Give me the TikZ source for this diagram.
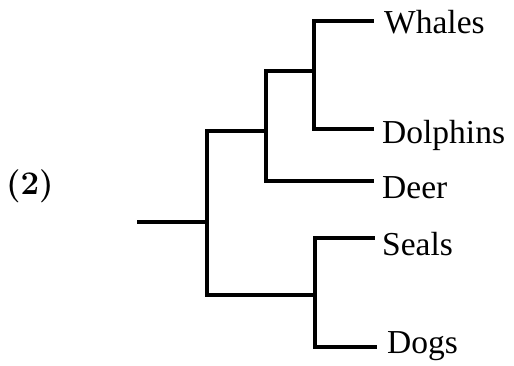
\documentclass[tikz,border=0pt]{standalone}
\usepackage{fontspec}
\newfontfamily\leaffont{Liberation Serif}
\usetikzlibrary{positioning}

\tikzset{
  branch/.style={line width=3.2pt, black},
  leaf/.style={anchor=base west, inner sep=0pt, font=\leaffont\fontsize{33.5}{40}\selectfont},
}

\begin{document}
\begin{tikzpicture}[x=1pt, y=-1pt]
    \useasboundingbox (0,0) rectangle (514,365);
    % panel number
    \node[anchor=base west, inner sep=0pt, font=\fontsize{33}{38}\selectfont\bfseries] (panel) at (6,194) {(2)};
    % inner nodes of the tree
    \coordinate (stub) at (137,222);
    \coordinate (root) at (207,222);
    \coordinate (upper) at (266,131);
    \coordinate (cetacea) at (314,71);
    \coordinate (lower) at (315,295);
    % tips
    \coordinate (whalesend) at (374,21);
    \coordinate (dolphinsend) at (374,129);
    \coordinate (deerend) at (374,181);
    \coordinate (sealsend) at (375,238);
    \coordinate (dogsend) at (377,347);
    % branches
    \draw[branch] (stub) -- (root);
    \draw[branch] (root) |- (upper);
    \draw[branch] (root) |- (lower);
    \draw[branch] (upper) |- (cetacea);
    \draw[branch] (upper) |- (deerend);
    \draw[branch] (cetacea) |- (whalesend);
    \draw[branch] (cetacea) |- (dolphinsend);
    \draw[branch] (lower) |- (sealsend);
    \draw[branch] (lower) |- (dogsend);
    % labels
    \node[leaf] (whales) at (384,33) {Whales};
    \node[leaf] (dolphins) at (382,143) {Dolphins};
    \node[leaf] (deer) at (382,198) {Deer};
    \node[leaf] (seals) at (382,255) {Seals};
    \node[leaf] (dogs) at (387,353) {Dogs};
\end{tikzpicture}
\end{document}
